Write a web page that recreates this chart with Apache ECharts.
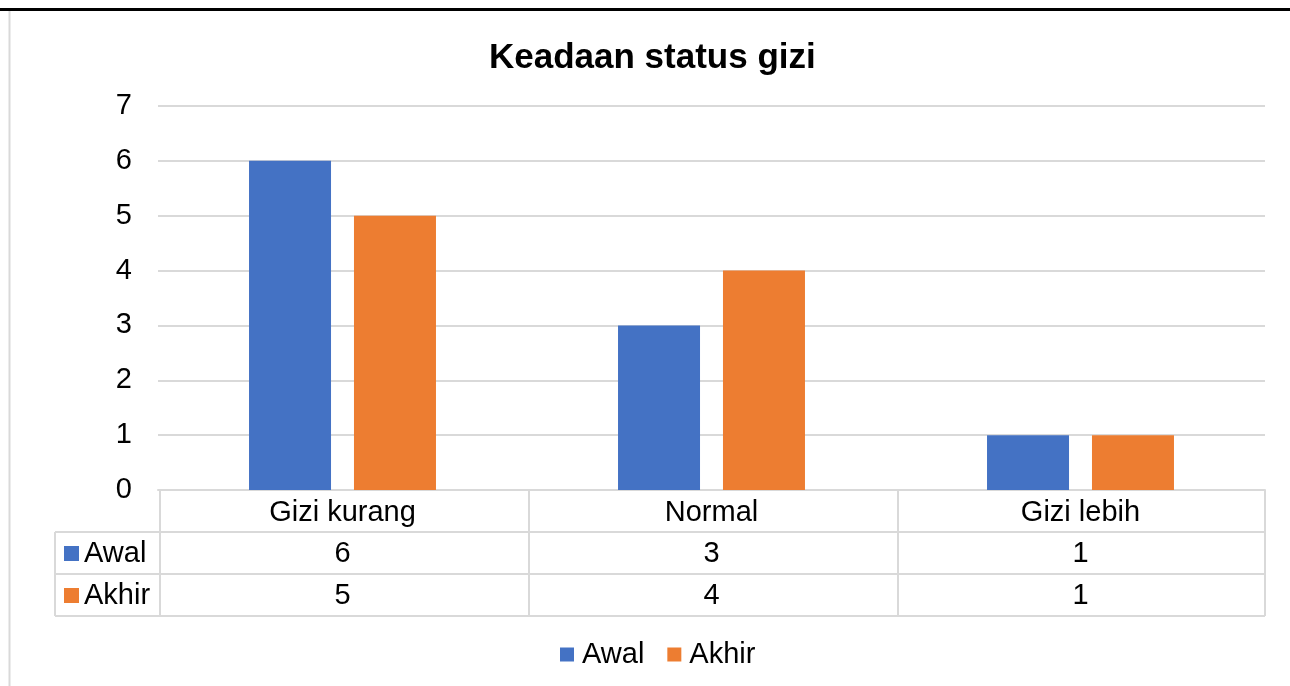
<!DOCTYPE html>
<html>
<head>
<meta charset="utf-8">
<script src="https://cdn.jsdelivr.net/npm/echarts@6/dist/echarts.min.js"></script>
<style>
  html, body { margin: 0; padding: 0; background: #fff; }
  #main { width: 1290px; height: 686px; }
</style>
</head>
<body>
<div id="main"></div>
<script>
const categories = ['Gizi kurang', 'Normal', 'Gizi lebih'];
const seriesNames = ['Awal', 'Akhir'];
const awal = [6, 3, 1];
const akhir = [5, 4, 1];
const yTicks = [0, 1, 2, 3, 4, 5, 6, 7];

const colors = ['#4472C4', '#ED7D31'];
const font = 'Liberation Sans, Arial, sans-serif';
const gridLine = '#d9d9d9';
const fs = 29;

const myChart = echarts.init(document.getElementById('main'));

const gridLeft = 158, gridRight = 25, gridTop = 106, gridBottom = 196;

const option = {
    color: colors,
    animation: false,
    textStyle: { fontFamily: font },
    title: {
        text: 'Keadaan status gizi',
        left: 484,
        top: 36,
        textStyle: { fontSize: 35, fontWeight: 'bold', color: '#000', fontFamily: font }
    },
    legend: {
        data: seriesNames,
        bottom: 12,
        left: 555,
        icon: 'rect',
        itemWidth: 14,
        itemHeight: 14,
        itemGap: 23,
        textStyle: { fontSize: fs, color: '#000', fontFamily: font, padding: [0, 0, 0, 3] }
    },
    grid: { left: gridLeft, right: gridRight, top: gridTop, bottom: gridBottom },
    xAxis: {
        type: 'category',
        data: categories,
        axisLine: { show: true, lineStyle: { color: gridLine, width: 2 } },
        axisTick: { show: false },
        axisLabel: { fontSize: fs, color: '#000', margin: 8, fontFamily: font }
    },
    yAxis: {
        type: 'value',
        min: yTicks[0],
        max: yTicks[yTicks.length - 1],
        interval: 1,
        axisLine: { show: false },
        axisTick: { show: false },
        axisLabel: { fontSize: fs, color: '#000', margin: 26, fontFamily: font },
        splitLine: { lineStyle: { color: gridLine, width: 2 } }
    },
    series: [
        { name: seriesNames[0], type: 'bar', data: awal, barWidth: 82, barGap: '28%' },
        { name: seriesNames[1], type: 'bar', data: akhir, barWidth: 82, barGap: '28%' }
    ]
};

myChart.setOption(option);

// data table under the plot, built from the same arrays
const W = 1290, H = 686;
const x0 = gridLeft, x1 = W - gridRight;
const yAxisPx = H - gridBottom;
const rowH = 42;
const keyLeft = 55;
const colW = (x1 - x0) / categories.length;
const rows = [awal, akhir];
const line = (a, b, c, d) => ({
    type: 'line', silent: true,
    shape: { x1: a, y1: b, x2: c, y2: d },
    style: { stroke: gridLine, lineWidth: 2 }
});
const g = [];
// outer frame of the chart area
g.push({ type: 'line', silent: true, shape: { x1: 0, y1: 9.5, x2: W, y2: 9.5 }, style: { stroke: '#000', lineWidth: 3 } });
g.push({ type: 'line', silent: true, shape: { x1: 9.5, y1: 11, x2: 9.5, y2: H }, style: { stroke: gridLine, lineWidth: 2 } });
// horizontal lines
for (let r = 1; r <= rows.length + 1; r++) {
    g.push(line(keyLeft, yAxisPx + r * rowH, x1, yAxisPx + r * rowH));
}
// vertical lines
g.push(line(keyLeft, yAxisPx + rowH, keyLeft, yAxisPx + (rows.length + 1) * rowH));
for (let c = 0; c <= categories.length; c++) {
    const x = x0 + 2 + c * colW - (c === categories.length ? 2 : 0);
    g.push(line(x, yAxisPx, x, yAxisPx + (rows.length + 1) * rowH));
}
// row keys and values
rows.forEach((vals, r) => {
    const cy = yAxisPx + (r + 1.5) * rowH;
    g.push({ type: 'rect', silent: true, shape: { x: 64, y: cy - 7, width: 15, height: 15 }, style: { fill: colors[r] } });
    g.push({ type: 'text', silent: true, x: 84, y: cy + 1,
        style: { text: seriesNames[r], fontSize: fs, fontFamily: font, fill: '#000', verticalAlign: 'middle', align: 'left' } });
    vals.forEach((v, c) => {
        g.push({ type: 'text', silent: true, x: x0 + (c + 0.5) * colW, y: cy + 1,
            style: { text: String(v), fontSize: fs, fontFamily: font, fill: '#000', verticalAlign: 'middle', align: 'center' } });
    });
});
myChart.setOption({ graphic: g });
</script>
</body>
</html>
